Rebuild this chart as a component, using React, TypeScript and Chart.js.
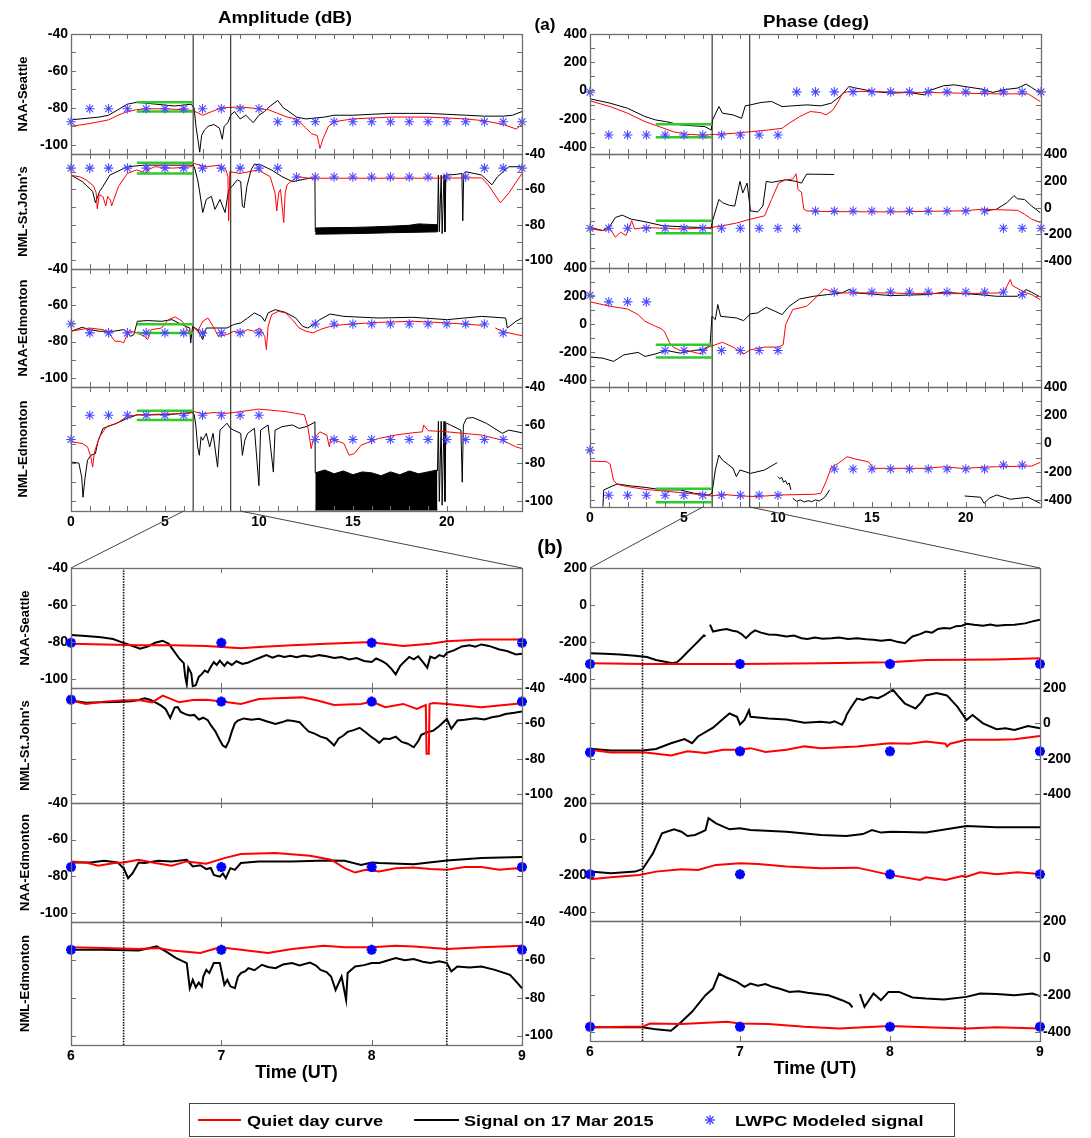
import React, { useEffect, useRef } from 'react';
import { Chart, registerables } from 'chart.js';

Chart.register(...registerables);
Chart.defaults.font.family = "'Liberation Sans', Arial, sans-serif";
Chart.defaults.color = '#000';

type Pt = [number, number | null];

// ---------------- tick labels, names, markers ----------------
const dayTicks = [0, 5, 10, 15, 20];
const zoomTicks = [6, 7, 8, 9];
const ampTicks = [-100, -80, -60, -40];
const phaseDayTicks = [-400, -200, 0, 200, 400];
const phaseZoomTicks = [-400, -200, 0, 200];
const stations = ['NAA-Seattle', "NML-St.John's", 'NAA-Edmonton', 'NML-Edmonton'];
const eventDay = [6.5, 8.5];
const eventZoom = [6.35, 8.5];
const connectLeft = [6, 9];
const connectRight = [6, 8.5];
const greenSpan = [3.5, 6.5];
const greenAmp = [[-77, -82], [-45, -51], [-70.5, -75.3], [-52.5, -57.3]];
const greenPhase = [[-240, -331], [-98, -190], [-148, -239], [-320, -417]];

// ---------------- (a) amplitude, full day ----------------
const ampSeaQuiet: Pt[] = [[0,-90],[1,-88.5],[2,-86.5],[2.5,-84],[3,-82],[3.5,-81],[4,-80.5],[5,-80.5],[6,-81],[6.5,-81.5],[7,-84],[7.5,-82],[8,-80],[9,-79.5],[10,-80.5],[10.5,-81],[11,-83],[11.5,-85],[12,-86],[12.5,-91],[12.8,-94],[13.1,-95],[13.25,-102],[13.4,-97],[13.7,-90],[14,-87.5],[15,-86],[16,-85.5],[17,-85],[18,-85],[19,-85],[20,-85.5],[21,-86],[22,-87],[23,-89],[23.7,-91.5],[24,-89]];
const ampSeaSignal: Pt[] = [[0,-86.5],[0.5,-86],[1,-85.5],[1.5,-85],[2,-84],[2.5,-81],[3,-78],[3.5,-77],[4,-77.5],[4.5,-78],[5,-78.5],[5.5,-79],[6,-78.5],[6.4,-78],[6.55,-80],[6.65,-90],[6.75,-97],[6.85,-104],[6.95,-95],[7.1,-92],[7.3,-90],[7.6,-89],[7.9,-91],[8.05,-97],[8.15,-90],[8.35,-88],[8.5,-84],[8.7,-82],[9,-86],[9.3,-84],[9.7,-88],[10,-84],[10.3,-82],[10.6,-79],[11,-76],[11.3,-80],[11.6,-82],[12,-85],[12.5,-86],[13,-85.5],[13.5,-85],[14,-84],[15,-84],[16,-83.5],[17,-83],[18,-83],[19,-83],[20,-83.5],[21,-84],[22,-84.5],[23,-84.5],[23.5,-84],[24,-82]];
const ampSeaModel: Pt[] = [[0,-87.5],[1,-80.5],[2,-80.5],[3,-80.5],[4,-80.5],[5,-80.5],[6,-80.5],[7,-80.5],[8,-80.5],[9,-80.5],[10,-80.5],[11,-87.5],[12,-87.5],[13,-87.5],[14,-87.5],[15,-87.5],[16,-87.5],[17,-87.5],[18,-87.5],[19,-87.5],[20,-87.5],[21,-87.5],[22,-87.5],[23,-87.5],[24,-87.5]];

const ampStjQuiet: Pt[] = [[0,-52],[0.5,-53],[0.8,-54.6],[1.2,-58],[1.34,-62],[1.4,-71],[1.5,-63],[1.7,-64],[1.85,-69.4],[1.95,-64],[2.1,-66],[2.16,-69.4],[2.25,-66.7],[2.53,-58.3],[3,-51],[3.5,-49],[3.9,-50.5],[4,-51.5],[4.1,-49],[4.45,-47.2],[5.4,-48],[6.4,-47.2],[6.56,-45.4],[7.2,-47.2],[7.9,-46.3],[8.25,-49],[8.35,-52.8],[8.39,-77.8],[8.45,-50],[9,-51],[9.95,-49],[10.6,-52.8],[10.86,-62],[10.95,-72.2],[11.05,-62],[11.15,-60],[11.32,-78.7],[11.4,-62],[11.5,-57.4],[12,-52.8],[12.7,-53.7],[15,-53.7],[19,-53.7],[21.85,-53.5],[22.2,-57.4],[22.85,-67.6],[23.3,-62],[24,-51]];
const ampStjSignal: Pt[] = [[0,-51.9],[0.6,-55.6],[1.15,-61.1],[1.3,-67.6],[1.52,-61.1],[1.7,-58.3],[2.07,-51.9],[3,-47.2],[3.9,-46.3],[6.47,-46.3],[6.56,-47.2],[6.74,-54.6],[6.83,-60.2],[7.01,-73.1],[7.2,-65.7],[7.47,-63.9],[7.66,-71.3],[7.93,-65.7],[8.2,-73.1],[8.39,-60.2],[8.57,-58.3],[8.85,-54.6],[9.03,-55.6],[9.12,-69.4],[9.21,-70.4],[9.36,-58.3],[9.58,-49.1],[9.76,-45.7],[10.13,-46.3],[10.68,-49.1],[11.23,-52.8],[11.78,-55.6],[12.69,-53.7],[12.98,-53.7],[13,-84],[13.02,null],[19.5,-84],[19.55,-52],[19.6,-84],[19.7,-52],[19.75,-85],[19.85,-52],[19.9,-84],[19.95,-52],[20,-51.9],[20.5,-51.5],[20.8,-51],[20.85,-77.8],[20.9,-51],[21,-50],[21.85,-51.9],[22.4,-57.4],[22.7,-52.8],[23.3,-47.2],[24,-47.2]];
const ampStjBandHi: Pt[] = [[13,-81.8],[14,-81.6],[15,-81.5],[16,-81.2],[17,-80.8],[18,-80.3],[18.5,-79.5],[19.5,-80]];
const ampStjBandLo: Pt[] = [[13,-85.3],[14,-85.2],[15,-85],[16,-84.8],[17,-84.5],[18,-84.3],[19.5,-84]];
const ampStjModel: Pt[] = [[0,-48],[1,-48],[2,-48],[3,-48],[4,-48],[5,-48],[6,-48],[7,-48],[8,-48],[9,-48],[10,-48],[11,-48],[12,-53],[13,-53],[14,-53],[15,-53],[16,-53],[17,-53],[18,-53],[19,-53],[20,-53],[21,-53],[22,-48],[23,-48],[24,-48]];

const ampNaaEdmQuiet: Pt[] = [[0,-74.3],[0.97,-72.5],[1.7,-73.4],[2.07,-76.1],[2.34,-79.8],[2.62,-79.8],[2.8,-80.7],[2.99,-76.1],[3.17,-74.3],[3.53,-75.2],[3.9,-77.1],[4.08,-78.9],[4.27,-73.4],[4.82,-72.5],[5.18,-67.9],[5.55,-66.4],[5.92,-68.8],[6.19,-73.4],[6.37,-76.1],[6.56,-72.5],[6.74,-74.3],[7.01,-68.8],[7.29,-67],[7.56,-71.6],[7.84,-77.1],[8.3,-76.1],[8.66,-74.3],[9.03,-75.2],[9.4,-73.4],[9.76,-74.3],[10.04,-72.5],[10.31,-77.1],[10.4,-84.4],[10.49,-71.6],[10.68,-65.1],[11.04,-63.3],[11.41,-64.2],[11.78,-67.9],[12.14,-72.5],[12.51,-74.3],[12.88,-75.2],[13.24,-73.4],[13.79,-71.6],[14.52,-70.6],[16.36,-69.4],[18.19,-68.8],[20.02,-69.7],[21.85,-71],[21.9,null],[22.58,-72.5],[22.95,-74.3],[23.68,-76.1],[24,-76.7]];
const ampNaaEdmSignal: Pt[] = [[0,-74.3],[0.6,-72.1],[0.97,-73.4],[1.52,-74.3],[2.25,-74.3],[2.8,-73.4],[3.17,-77.1],[3.35,-76.1],[3.53,-68.8],[4.08,-68.4],[4.82,-68.8],[5.37,-67.9],[5.73,-69.7],[6.1,-71.6],[6.32,-72.5],[6.37,-80.7],[6.47,-71.6],[6.74,-73.4],[7.01,-78.9],[7.2,-72.5],[7.75,-72.5],[8.3,-72.5],[8.66,-70.6],[9.03,-69.7],[9.4,-67],[9.76,-64.2],[10.13,-66.1],[10.31,-68.8],[10.49,-64.2],[10.86,-62.4],[11.41,-63.9],[11.96,-67],[12.33,-71.6],[12.6,-72.5],[12.88,-70.6],[13.24,-67.9],[13.79,-64.8],[14.52,-66.1],[16.36,-67],[18.19,-66.6],[20.02,-67.9],[21.85,-66.1],[23.13,-67],[23.22,-72.5],[23.68,-68.8],[24,-67]];
const ampNaaEdmModel: Pt[] = [[0,-70.3],[1,-75.2],[2,-75.2],[3,-75.2],[4,-75.2],[5,-75.2],[6,-75.2],[7,-75.2],[8,-75.2],[9,-75.2],[10,-75.2],[13,-70.3],[14,-70.3],[15,-70.3],[16,-70.3],[17,-70.3],[18,-70.3],[19,-70.3],[20,-70.3],[21,-70.3],[22,-70.3],[23,-75.2]];

const ampNmlEdmQuiet: Pt[] = [[0,-68.7],[0.6,-69.6],[0.88,-71.4],[1.06,-76.7],[1.15,-82],[1.25,-74],[1.52,-66.1],[1.89,-60.8],[2.44,-59],[2.99,-55.5],[3.53,-54.6],[4.45,-54.3],[5.37,-54.1],[6.28,-53.8],[6.56,-52.9],[7.01,-54.1],[7.56,-53.4],[8.3,-53.8],[9.03,-52.9],[9.95,-51.6],[10.49,-52],[11.41,-52.9],[11.96,-53.8],[12.42,-54.6],[12.6,-60.8],[12.78,-72.3],[12.88,-67.9],[13.24,-63.5],[13.61,-65.2],[13.75,-71.4],[13.83,-67],[14.52,-69.6],[14.8,-75.8],[15.07,-74.9],[15.44,-70.5],[16.36,-67],[17.27,-65.2],[18.19,-64],[18.7,-63.5],[18.77,-59.9],[19.01,-62.9],[20.02,-63.5],[21.85,-65.2],[22.95,-67.9],[23.68,-71.4],[24,-72.3]];
const ampNmlEdmSignal: Pt[] = [[0,-79.3],[0.42,-79.9],[0.57,-87.3],[0.64,-97.8],[0.75,-87.3],[0.88,-78.4],[1.06,-75.8],[1.3,-74.9],[1.43,-68.7],[1.7,-61.7],[2.44,-59],[2.99,-56.4],[3.53,-54.6],[4.45,-54.6],[5.37,-54.3],[6.47,-53.4],[6.56,-54.6],[6.65,-60.8],[6.74,-71.4],[6.83,-75.8],[6.92,-66.1],[7.01,-67.9],[7.2,-64.3],[7.38,-71.4],[7.56,-64.3],[7.8,-82],[7.93,-62.6],[8.3,-59],[8.48,-61.7],[8.66,-62.6],[9.03,-64.3],[9.12,-75.8],[9.25,-67.9],[9.4,-64.3],[9.76,-61.7],[10,-91.7],[10.09,-62.6],[10.49,-59.9],[10.77,-84.6],[10.86,-62.6],[11.23,-60.8],[11.78,-59.9],[12.14,-61.7],[12.51,-60.8],[12.88,-59],[12.98,-58.2],[13,-85],[13.02,null],[19.5,-84],[19.55,-58],[19.6,-100],[19.7,-58],[19.75,-102],[19.85,-58],[19.9,-100],[19.95,-59],[20,-59],[20.2,-60],[20.75,-62.6],[20.82,-89.9],[20.88,-60],[21.05,-56.4],[21.4,-56],[22.1,-59],[22.95,-64.3],[23.3,-62.6],[24,-64]];
const ampNmlEdmBandHi: Pt[] = [[13,-85],[13.5,-83.5],[14,-85.5],[14.5,-84],[15,-86],[15.5,-84.5],[16,-85],[16.5,-86.5],[17,-84.5],[17.5,-86],[18,-84],[18.5,-85.5],[19,-84.5],[19.5,-83.5]];
const ampNmlEdmBandLo: Pt[] = [[13,-104.5],[16,-104.5],[19.5,-104.5]];
const ampNmlEdmModel: Pt[] = [[0,-67.5],[1,-54.8],[2,-54.8],[3,-54.8],[4,-54.8],[5,-54.8],[6,-54.8],[7,-54.8],[8,-54.8],[9,-54.8],[10,-54.8],[13,-67.5],[14,-67.5],[15,-67.5],[16,-67.5],[17,-67.5],[18,-67.5],[19,-67.5],[20,-67.5],[21,-67.5],[22,-67.5],[23,-67.5]];

// ---------------- (a) phase, full day ----------------
const phSeaQuiet: Pt[] = [[0,-73.5],[1.07,-114],[2,-161],[2.93,-221],[3.68,-256],[4.43,-292],[5.18,-311],[6.11,-316],[6.67,-311],[7.61,-304],[8.54,-292],[9.48,-280],[10.22,-268],[10.6,-232],[11.16,-185],[11.72,-149],[12.28,-157],[12.56,-173],[12.93,-138],[13.21,-78],[13.44,-19],[13.78,-7],[15.08,-7],[16.02,-12],[17.89,-14],[19.76,-19],[21.63,-24],[23.31,-24],[23.96,-78]];
const phSeaSignal: Pt[] = [[0,-59],[1.07,-90],[2,-126],[2.93,-185],[3.5,-209],[4.06,-221],[4.8,-244],[5.55,-251],[6.11,-256],[6.45,-280],[6.52,-209],[6.86,-114],[7.05,-161],[7.61,-173],[8.07,-197],[8.26,-109],[8.54,-102],[9.1,-85],[9.66,-78],[10.22,-114],[10.79,-109],[11.53,-102],[12.28,-109],[12.84,-90],[13.4,-31],[13.78,28],[14.15,17],[15.08,-7],[16.02,-19],[16.95,-14],[17.79,-31],[18.07,0],[18.82,33],[19.38,40],[20.13,24],[20.88,9],[21.44,-14],[22,5],[22.75,17],[23.21,45],[23.5,21],[23.96,-19]];
const phSeaModel: Pt[] = [[0,-12],[1,-315],[2,-315],[3,-315],[4,-315],[5,-315],[6,-315],[7,-315],[8,-315],[9,-315],[10,-315],[11,-10],[12,-10],[13,-10],[14,-10],[15,-10],[16,-10],[17,-10],[18,-10],[19,-10],[20,-10],[21,-10],[22,-10],[23,-10],[24,-10]];

const phStjQuiet: Pt[] = [[0,-159],[0.69,-171],[1.07,-159],[1.35,-220],[1.63,-183],[1.91,-208],[2.09,-147],[2.22,-98],[2.37,-159],[2.93,-147],[3.87,-154],[4.8,-159],[5.74,-154],[6.49,-147],[7.05,-135],[7.79,-115],[8.54,-86],[9.29,-61],[9.66,61],[10.04,183],[10.41,208],[10.79,213],[10.97,252],[11.07,135],[11.25,115],[11.38,-12],[11.53,-24],[12.28,-29],[16.02,-32],[19.76,-24],[20.88,-12],[22.75,-20],[23.12,-49],[23.5,-86],[23.96,-110]];
const phStjSignal: Pt[] = [[0,-147],[0.69,-171],[1.07,-135],[1.35,-73],[1.72,-56],[2.19,-86],[2.93,-105],[3.87,-135],[4.8,-142],[5.74,-147],[6.45,-154],[6.52,-98],[6.86,61],[7.05,37],[7.42,17],[7.7,12],[7.98,196],[8.13,110],[8.36,183],[8.54,-24],[8.92,-32],[9.2,12],[9.38,196],[9.66,188],[10.41,208],[10.97,196],[11.25,183],[11.53,250],[12.99,247],[13.02,null],[20.97,-24],[21.63,-12],[22.19,37],[22.56,90],[22.75,66],[23.12,61],[23.5,12],[23.96,-37]];
const phStjModel: Pt[] = [[0,-154],[1,-154],[2,-154],[3,-154],[4,-154],[5,-154],[6,-154],[7,-154],[8,-154],[9,-154],[10,-154],[11,-154],[12,-25],[13,-25],[14,-25],[15,-25],[16,-25],[17,-25],[18,-25],[19,-25],[20,-25],[21,-25],[22,-154],[23,-154],[24,-154]];

const phNaaEdmQuiet: Pt[] = [[0,158],[1.07,127],[2,107],[2.56,67],[2.93,19],[3.5,-17],[3.78,-33],[3.96,-53],[4.24,-136],[4.43,-165],[4.8,-189],[5.36,-196],[5.93,-215],[6.3,-165],[7.05,-131],[7.61,-165],[8.17,-215],[8.54,-184],[9.29,-165],[10.04,-165],[10.28,-148],[10.41,-5],[10.79,103],[11.53,127],[12.09,198],[12.47,251],[12.84,234],[13.4,222],[16.02,222],[16.95,217],[19.76,217],[22,222],[22.37,318],[22.47,275],[23.12,227],[23.5,210],[23.96,174]];
const phNaaEdmSignal: Pt[] = [[0,-236],[0.69,-244],[1.25,-267],[1.81,-220],[2.56,-203],[2.93,-232],[3.5,-213],[4.06,-189],[4.8,-208],[5.55,-189],[6.11,-179],[6.39,-148],[6.49,55],[6.67,31],[6.8,139],[6.95,55],[7.79,43],[8.17,24],[8.54,72],[8.92,79],[9.38,119],[9.85,91],[10.22,67],[10.6,127],[11.16,179],[11.91,198],[12.65,210],[13.4,222],[13.78,246],[14.15,222],[16.02,203],[17.89,210],[18.82,227],[20.69,210],[21.63,198],[22.75,198],[23.21,246],[23.5,227],[23.96,193]];
const phNaaEdmModel: Pt[] = [[0,205],[1,158],[2,158],[3,158],[4,-189],[5,-189],[6,-189],[7,-189],[8,-189],[9,-189],[10,-189],[13,229],[14,229],[15,229],[16,229],[17,229],[18,229],[19,229],[20,229],[21,229],[22,229],[23,210]];

const phNmlEdmQuiet: Pt[] = [[0,-125],[0.88,-129],[1.07,-146],[1.25,-259],[1.44,-289],[2,-306],[2.93,-325],[4.8,-348],[5.74,-360],[6.49,-372],[7.05,-360],[7.98,-372],[8.92,-376],[10.04,-365],[11.91,-360],[12.28,-353],[12.56,-271],[12.84,-169],[13.21,-141],[13.68,-94],[14.15,-111],[14.8,-129],[15.08,-176],[17.89,-176],[18.82,-165],[19.76,-176],[21.63,-165],[23.5,-160],[23.96,-134]];
const phNmlEdmSignal: Pt[] = [[0.69,-447],[0.73,-329],[1.44,-287],[2.19,-301],[2.93,-311],[3.87,-329],[4.8,-329],[5.55,-353],[6.3,-365],[6.49,-353],[6.67,-188],[6.86,-82],[7.05,-118],[7.61,-176],[7.79,-235],[7.98,-188],[8.54,-212],[9.29,-188],[9.96,-136],[9.98,null],[10,-235],[10.1,-250],[10.2,-240],[10.3,-275],[10.4,-262],[10.5,-290],[10.6,-280],[10.69,-329],[10.74,null],[10.79,-388],[11,-410],[11.2,-400],[11.4,-415],[11.6,-405],[11.8,-412],[12,-400],[12.2,-408],[12.5,-380],[12.75,-329],[12.8,null],[19.94,-372],[20.79,-381],[20.97,-424],[21.25,-388],[21.63,-365],[22.37,-395],[23.31,-381],[23.96,-424]];
const phNmlEdmModel: Pt[] = [[0,-47],[1,-367],[2,-367],[3,-367],[4,-367],[5,-367],[6,-367],[7,-367],[8,-367],[9,-367],[10,-367],[13,-181],[14,-181],[15,-181],[16,-181],[17,-181],[18,-181],[19,-181],[20,-181],[21,-181],[22,-153],[23,-153]];

// ---------------- (b) amplitude, 6-9 UT ----------------
const zAmpSeaQuiet: Pt[] = [[6,-81],[6.22,-81.4],[6.45,-81.9],[6.67,-81.9],[6.9,-82.3],[7.13,-83.5],[7.25,-82.8],[7.47,-81.9],[7.7,-81],[8,-80.1],[8.05,-80.8],[8.21,-82.3],[8.39,-81],[8.5,-79.7],[8.73,-78.7],[9,-78.7]];
const zAmpSeaSignal: Pt[] = [[6,-76.3],[6.1,-76.8],[6.2,-77.5],[6.28,-78.5],[6.33,-80],[6.4,-82],[6.46,-83.7],[6.51,-82.5],[6.56,-80.5],[6.61,-79.4],[6.65,-81],[6.68,-84.5],[6.72,-89],[6.75,-91.5],[6.76,-99],[6.77,-103],[6.78,-94],[6.8,-97],[6.81,-104],[6.83,-103.5],[6.85,-99],[6.87,-97.5],[6.89,-95.5],[6.91,-96.5],[6.93,-93.5],[6.95,-91],[6.97,-92.5],[6.99,-90.2],[7.02,-93],[7.04,-91],[7.07,-92.5],[7.1,-90.5],[7.14,-92],[7.18,-91.2],[7.22,-89.8],[7.26,-88.5],[7.3,-87.2],[7.34,-88.6],[7.38,-87.4],[7.42,-88.2],[7.46,-87.5],[7.5,-88.3],[7.55,-87.4],[7.6,-88],[7.65,-87.2],[7.7,-87.8],[7.75,-88.8],[7.8,-88.2],[7.85,-89.6],[7.9,-88.8],[7.95,-90.4],[8,-90.9],[8.03,-89],[8.07,-90.5],[8.1,-92],[8.13,-94.5],[8.16,-97.6],[8.19,-93],[8.22,-90.5],[8.25,-88.2],[8.28,-89.5],[8.31,-87.8],[8.34,-90.8],[8.37,-94],[8.39,-88],[8.42,-89],[8.45,-87.2],[8.48,-88],[8.5,-85.9],[8.55,-84.5],[8.6,-82.5],[8.65,-81.8],[8.69,-82.6],[8.73,-81.4],[8.78,-82.2],[8.85,-84.1],[8.9,-85],[8.96,-86.8],[9,-86.5]];
const zAmpSeaModel: Pt[] = [[6,-80.5],[7,-80.5],[8,-80.5],[9,-80.5]];

const zAmpStjQuiet: Pt[] = [[6,-47.1],[6.1,-49],[6.22,-47.7],[6.33,-47.1],[6.45,-46.8],[6.54,-48.1],[6.61,-44.3],[6.72,-48.1],[6.81,-46.8],[6.9,-46.6],[6.99,-47.5],[7.13,-49],[7.25,-46.2],[7.36,-45.8],[7.54,-45.3],[7.64,-47.1],[7.75,-49.6],[7.93,-49],[8,-47.7],[8.09,-50.9],[8.21,-49],[8.3,-51.8],[8.36,-49.6],[8.365,-77.2],[8.38,-77.2],[8.385,-49],[8.41,-48.5],[8.5,-49],[8.73,-50.9],[9,-48.6]];
const zAmpStjSignal: Pt[] = [[6,-47.1],[6.1,-48.3],[6.2,-48],[6.3,-47.9],[6.4,-47.5],[6.45,-46.8],[6.49,-45.8],[6.53,-46.8],[6.57,-48.5],[6.6,-50],[6.63,-52],[6.66,-56.9],[6.69,-51],[6.71,-50.8],[6.73,-53.5],[6.76,-54.8],[6.79,-55.5],[6.82,-55.2],[6.85,-57.8],[6.88,-56.8],[6.91,-58.2],[6.93,-61],[6.96,-64.5],[6.99,-69.5],[7.01,-72.5],[7.03,-73.5],[7.05,-70],[7.07,-64.5],[7.09,-60],[7.11,-58.4],[7.15,-57.2],[7.2,-58],[7.25,-57.4],[7.3,-58.8],[7.36,-60.3],[7.4,-59.4],[7.44,-58.2],[7.48,-58.6],[7.52,-59.3],[7.55,-62],[7.58,-64.5],[7.62,-65.8],[7.66,-67.5],[7.7,-68.5],[7.73,-70.8],[7.75,-72.5],[7.78,-68.5],[7.81,-67],[7.84,-64.8],[7.88,-63.8],[7.92,-62.5],[7.96,-65],[8,-67.8],[8.03,-69.5],[8.05,-71],[8.08,-68.5],[8.12,-68.8],[8.16,-67.5],[8.2,-70.5],[8.24,-71.5],[8.28,-73.5],[8.31,-70],[8.33,-66.5],[8.37,-65],[8.41,-64.1],[8.45,-61.5],[8.5,-57.5],[8.53,-63.1],[8.57,-58.4],[8.62,-58],[8.69,-57.1],[8.75,-57.8],[8.8,-56.5],[8.85,-55.8],[8.89,-54.7],[8.95,-54],[9,-53.3]];
const zAmpStjModel: Pt[] = [[6,-46.6],[7,-47.7],[8,-47.7],[9,-47.7]];

const zAmpNaaEdmQuiet: Pt[] = [[6,-71.9],[6.1,-72.5],[6.18,-74.3],[6.29,-72.8],[6.35,-72.5],[6.45,-71],[6.56,-72.8],[6.67,-74.3],[6.77,-71.9],[6.9,-73.2],[7.02,-70.1],[7.13,-67.9],[7.36,-67.3],[7.59,-68.8],[7.73,-71],[7.82,-75.6],[7.89,-78],[7.96,-76.5],[8.05,-77.4],[8.16,-75.6],[8.28,-75.2],[8.39,-76.1],[8.5,-76.5],[8.62,-75],[8.73,-75],[8.85,-76.5],[8.96,-75.6],[9,-77.4]];
const zAmpNaaEdmSignal: Pt[] = [[6,-72.5],[6.13,-72.5],[6.22,-71.6],[6.31,-72.5],[6.35,-75.6],[6.38,-81.1],[6.41,-78.3],[6.45,-72.5],[6.49,-72.8],[6.58,-71.6],[6.67,-71.9],[6.77,-71],[6.81,-74.7],[6.86,-74],[6.9,-76.1],[6.93,-75.5],[6.95,-79.3],[6.99,-80.2],[7.01,-78.5],[7.03,-81.1],[7.06,-75.6],[7.09,-76.5],[7.13,-72.8],[7.25,-71.9],[7.47,-71.9],[7.7,-71.4],[7.82,-71.6],[7.93,-73.8],[8,-72.5],[8.05,-72.8],[8.28,-73.4],[8.5,-71.4],[8.73,-70.1],[9,-69.5]];
const zAmpNaaEdmModel: Pt[] = [[6,-75],[7,-75],[8,-75],[9,-75]];

const zAmpNmlEdmQuiet: Pt[] = [[6,-53.3],[6.22,-53.8],[6.45,-54.3],[6.58,-53.8],[6.67,-55],[6.86,-56.4],[6.99,-53.3],[7.13,-54.7],[7.31,-56.4],[7.47,-54.3],[7.68,-52.5],[7.82,-53.3],[8,-53.3],[8.16,-52.5],[8.28,-52.9],[8.5,-54.3],[8.73,-53.3],[9,-52.5]];
const zAmpNmlEdmSignal: Pt[] = [[6,-54.7],[6.22,-54.7],[6.45,-55],[6.57,-52.9],[6.63,-55.5],[6.7,-59.1],[6.77,-61.7],[6.79,-75],[6.81,-70.6],[6.83,-74.5],[6.85,-72],[6.87,-74.1],[6.88,-68.8],[6.9,-65.3],[6.92,-67],[6.95,-61.7],[6.99,-61.7],[7.02,-73.2],[7.04,-70.6],[7.06,-74],[7.09,-75],[7.11,-69],[7.13,-67],[7.16,-66],[7.18,-64.4],[7.22,-65.5],[7.27,-62.6],[7.31,-63.8],[7.36,-64.4],[7.41,-62.5],[7.47,-61.7],[7.52,-63],[7.59,-61.4],[7.63,-63],[7.66,-65.3],[7.7,-66.5],[7.73,-68.8],[7.76,-75.9],[7.8,-68.8],[7.83,-81.2],[7.84,-67],[7.89,-63.5],[7.95,-62.8],[8,-61.7],[8.05,-61.7],[8.1,-60.5],[8.16,-59.1],[8.22,-60.2],[8.28,-59.6],[8.34,-61],[8.39,-61.7],[8.45,-60.8],[8.5,-61.7],[8.53,-66.1],[8.57,-63.5],[8.65,-64],[8.73,-63.5],[8.82,-65.3],[8.92,-67.9],[8.96,-71.4],[9,-75]];
const zAmpNmlEdmModel: Pt[] = [[6,-54.7],[7,-54.7],[8,-54.7],[9,-54.7]];

// ---------------- (b) phase, 6-9 UT ----------------
const zPhSeaQuiet: Pt[] = [[6,-316],[6.37,-320],[7,-320],[7.54,-316],[8,-311],[8.24,-298],[8.71,-295],[9,-289]];
const zPhSeaSignal: Pt[] = [[6,-262],[6.1,-264],[6.2,-268],[6.3,-275],[6.38,-282],[6.44,-298],[6.5,-308],[6.55,-316],[6.58,-310],[6.61,-289],[6.65,-255],[6.7,-215],[6.73,-190],[6.76,-165],[6.77,-171],[6.785,null],[6.8,-107],[6.82,-144],[6.86,-137],[6.91,-131],[6.95,-140],[6.98,-144],[7.01,-158],[7.04,-180],[7.07,-155],[7.1,-138],[7.14,-150],[7.19,-160],[7.24,-162],[7.31,-171],[7.36,-166],[7.41,-180],[7.45,-185],[7.5,-176],[7.55,-183],[7.61,-180],[7.66,-176],[7.72,-184],[7.78,-180],[7.84,-186],[7.89,-189],[7.94,-194],[8,-189],[8.05,-200],[8.1,-207],[8.13,-185],[8.15,-171],[8.2,-158],[8.24,-144],[8.28,-150],[8.32,-130],[8.36,-125],[8.4,-128],[8.44,-115],[8.48,-113],[8.51,-102],[8.56,-108],[8.62,-113],[8.67,-106],[8.71,-113],[8.77,-109],[8.83,-107],[8.9,-100],[8.95,-89],[9,-80]];
const zPhSeaModel: Pt[] = [[6,-320],[7,-320],[8,-320],[9,-320]];

const zPhStjQuiet: Pt[] = [[6,-149],[6.14,-164],[6.37,-164],[6.54,-182],[6.65,-158],[6.77,-167],[6.89,-149],[7,-149],[7.07,-140],[7.17,-162],[7.31,-149],[7.43,-130],[7.54,-140],[7.78,-130],[8,-112],[8.13,-115],[8.24,-102],[8.37,-115],[8.38,-130],[8.4,-115],[8.51,-93],[8.71,-93],[8.83,-89],[9,-71]];
const zPhStjSignal: Pt[] = [[6,-143],[6.14,-153],[6.35,-153],[6.44,-145],[6.54,-112],[6.63,-89],[6.68,-112],[6.72,-74],[6.82,-24],[6.89,28],[6.93,56],[6.98,37],[7,-6],[7.03,19],[7.06,74],[7.07,37],[7.19,28],[7.31,22],[7.43,4],[7.54,9],[7.6,4],[7.63,12],[7.66,0],[7.68,-8],[7.7,22],[7.71,47],[7.74,90],[7.78,140],[7.82,132],[7.87,149],[7.92,142],[7.96,158],[8.02,190],[8.06,149],[8.1,112],[8.14,96],[8.17,84],[8.21,120],[8.24,158],[8.31,171],[8.38,158],[8.45,93],[8.51,19],[8.55,47],[8.62,0],[8.71,-33],[8.77,-28],[8.83,-37],[8.92,-15],[9,-28]];
const zPhStjModel: Pt[] = [[6,-164],[7,-158],[8,-158],[9,-158]];

const zPhNaaEdmQuiet: Pt[] = [[6,-220],[6.14,-209],[6.33,-196],[6.44,-178],[6.61,-165],[6.72,-169],[6.84,-141],[7,-132],[7.12,-136],[7.31,-150],[7.54,-160],[7.78,-156],[8,-196],[8.2,-224],[8.24,-209],[8.37,-224],[8.48,-202],[8.51,-206],[8.6,-182],[8.71,-193],[8.78,-187],[8.85,-182],[9,-191]];
const zPhNaaEdmSignal: Pt[] = [[6,-178],[6.14,-187],[6.3,-178],[6.35,-165],[6.42,-77],[6.44,-40],[6.48,33],[6.56,55],[6.61,42],[6.65,18],[6.7,24],[6.75,42],[6.77,51],[6.79,116],[6.84,88],[6.93,55],[7,61],[7.07,51],[7.31,42],[7.54,24],[7.71,18],[7.82,29],[7.88,51],[7.94,37],[8.01,42],[8.24,37],[8.51,73],[8.71,66],[9,66]];
const zPhNaaEdmModel: Pt[] = [[6,-193],[7,-193],[8,-193],[9,-193]];

const zPhNmlEdmQuiet: Pt[] = [[6,-376],[6.26,-373],[6.35,-373],[6.4,-355],[6.61,-358],[6.91,-346],[7,-355],[7.19,-358],[7.43,-373],[7.66,-382],[8,-369],[8.24,-376],[8.51,-382],[8.71,-376],[9,-382]];
const zPhNmlEdmSignal: Pt[] = [[6,-376],[6.26,-376],[6.35,-376],[6.44,-387],[6.54,-394],[6.61,-346],[6.68,-292],[6.77,-202],[6.82,-166],[6.86,-85],[6.91,-106],[6.98,-130],[7.03,-157],[7.07,-139],[7.12,-150],[7.17,-142],[7.22,-158],[7.26,-166],[7.33,-184],[7.39,-180],[7.45,-189],[7.52,-195],[7.59,-202],[7.68,-229],[7.73,-247],[7.75,-268],[7.77,null],[7.8,-196],[7.83,-265],[7.89,-193],[7.94,-229],[7.99,-184],[8.06,-184],[8.15,-214],[8.24,-220],[8.36,-225],[8.51,-211],[8.6,-193],[8.71,-196],[8.83,-202],[8.95,-193],[9,-207]];
const zPhNmlEdmModel: Pt[] = [[6,-373],[7,-373],[8,-373],[9,-373]];

// ---------------- layout ----------------
const ML = 72, MR = 60, MT = 14;
type Block = { left: number; right: number; edges: number[]; timeY?: number };
const TL: Block = { left: 71, right: 522, edges: [34, 154, 269, 387, 511] };
const TR: Block = { left: 590, right: 1041, edges: [34, 154, 268, 387, 507] };
const BL: Block = { left: 71, right: 522, edges: [568, 688, 803, 922, 1045], timeY: 1073.5 };
const BR: Block = { left: 590, right: 1040, edges: [568, 688, 803, 921, 1041], timeY: 1069 };

type Kind = { xMin: number; xMax: number; xTicks: number[]; xMinor: number; yMin: number; yMax: number; yTicks: number[]; yMinor: number; events: number[]; zoom: boolean };
const KINDS: Record<string, Kind> = {
  ampDay: { xMin: 0, xMax: 24, xTicks: dayTicks, xMinor: 1, yMin: -105, yMax: -40, yTicks: ampTicks, yMinor: 10, events: eventDay, zoom: false },
  phaseDay: { xMin: 0, xMax: 24, xTicks: dayTicks, xMinor: 1, yMin: -450, yMax: 400, yTicks: phaseDayTicks, yMinor: 100, events: eventDay, zoom: false },
  ampZoom: { xMin: 6, xMax: 9, xTicks: zoomTicks, xMinor: 1, yMin: -105, yMax: -40, yTicks: ampTicks, yMinor: 20, events: eventZoom, zoom: true },
  phaseZoom: { xMin: 6, xMax: 9, xTicks: zoomTicks, xMinor: 1, yMin: -450, yMax: 200, yTicks: phaseZoomTicks, yMinor: 200, events: eventZoom, zoom: true },
};

type Spec = { id: string; block: Block; row: number; kind: string; quiet: Pt[]; signal: Pt[]; model: Pt[]; bandHi?: Pt[]; bandLo?: Pt[]; green?: number[]; station?: string; stationX?: number };

const specs: Spec[] = [
  { id: 'ta0', block: TL, row: 0, kind: 'ampDay', quiet: ampSeaQuiet, signal: ampSeaSignal, model: ampSeaModel, green: greenAmp[0], station: stations[0], stationX: 23 },
  { id: 'ta1', block: TL, row: 1, kind: 'ampDay', quiet: ampStjQuiet, signal: ampStjSignal, model: ampStjModel, bandHi: ampStjBandHi, bandLo: ampStjBandLo, green: greenAmp[1], station: stations[1], stationX: 23 },
  { id: 'ta2', block: TL, row: 2, kind: 'ampDay', quiet: ampNaaEdmQuiet, signal: ampNaaEdmSignal, model: ampNaaEdmModel, green: greenAmp[2], station: stations[2], stationX: 23 },
  { id: 'ta3', block: TL, row: 3, kind: 'ampDay', quiet: ampNmlEdmQuiet, signal: ampNmlEdmSignal, model: ampNmlEdmModel, bandHi: ampNmlEdmBandHi, bandLo: ampNmlEdmBandLo, green: greenAmp[3], station: stations[3], stationX: 23 },
  { id: 'tp0', block: TR, row: 0, kind: 'phaseDay', quiet: phSeaQuiet, signal: phSeaSignal, model: phSeaModel, green: greenPhase[0] },
  { id: 'tp1', block: TR, row: 1, kind: 'phaseDay', quiet: phStjQuiet, signal: phStjSignal, model: phStjModel, green: greenPhase[1] },
  { id: 'tp2', block: TR, row: 2, kind: 'phaseDay', quiet: phNaaEdmQuiet, signal: phNaaEdmSignal, model: phNaaEdmModel, green: greenPhase[2] },
  { id: 'tp3', block: TR, row: 3, kind: 'phaseDay', quiet: phNmlEdmQuiet, signal: phNmlEdmSignal, model: phNmlEdmModel, green: greenPhase[3] },
  { id: 'ba0', block: BL, row: 0, kind: 'ampZoom', quiet: zAmpSeaQuiet, signal: zAmpSeaSignal, model: zAmpSeaModel, station: stations[0], stationX: 25 },
  { id: 'ba1', block: BL, row: 1, kind: 'ampZoom', quiet: zAmpStjQuiet, signal: zAmpStjSignal, model: zAmpStjModel, station: stations[1], stationX: 25 },
  { id: 'ba2', block: BL, row: 2, kind: 'ampZoom', quiet: zAmpNaaEdmQuiet, signal: zAmpNaaEdmSignal, model: zAmpNaaEdmModel, station: stations[2], stationX: 25 },
  { id: 'ba3', block: BL, row: 3, kind: 'ampZoom', quiet: zAmpNmlEdmQuiet, signal: zAmpNmlEdmSignal, model: zAmpNmlEdmModel, station: stations[3], stationX: 25 },
  { id: 'bp0', block: BR, row: 0, kind: 'phaseZoom', quiet: zPhSeaQuiet, signal: zPhSeaSignal, model: zPhSeaModel },
  { id: 'bp1', block: BR, row: 1, kind: 'phaseZoom', quiet: zPhStjQuiet, signal: zPhStjSignal, model: zPhStjModel },
  { id: 'bp2', block: BR, row: 2, kind: 'phaseZoom', quiet: zPhNaaEdmQuiet, signal: zPhNaaEdmSignal, model: zPhNaaEdmModel },
  { id: 'bp3', block: BR, row: 3, kind: 'phaseZoom', quiet: zPhNmlEdmQuiet, signal: zPhNmlEdmSignal, model: zPhNmlEdmModel },
];

// frame + inward tick marks
const frameTicks = {
  id: 'frameTicks',
  afterDatasetsDraw(chart: any, _args: any, o: any) {
    const { ctx, chartArea: a, scales } = chart;
    const xs = scales.x, ys = scales.y;
    const L = 5;
    ctx.save();
    ctx.strokeStyle = '#6e6e6e';
    ctx.lineWidth = 1;
    ctx.beginPath();
    for (let v = o.xMin; v <= o.xMax + 1e-9; v += o.xMinor) {
      const px = Math.round(xs.getPixelForValue(v)) + 0.5;
      ctx.moveTo(px, a.top); ctx.lineTo(px, a.top + L);
      ctx.moveTo(px, a.bottom); ctx.lineTo(px, a.bottom - L);
    }
    const y0 = Math.ceil(o.yMin / o.yMinor) * o.yMinor;
    for (let v = y0; v <= o.yMax + 1e-9; v += o.yMinor) {
      const py = Math.round(ys.getPixelForValue(v)) + 0.5;
      ctx.moveTo(a.left, py); ctx.lineTo(a.left + L, py);
      ctx.moveTo(a.right, py); ctx.lineTo(a.right - L, py);
    }
    ctx.stroke();
    ctx.lineWidth = 1.3;
    ctx.strokeRect(a.left + 0.5, a.top + 0.5, a.right - a.left, a.bottom - a.top);
    ctx.restore();
  },
};

const xy = (p: Pt[]) => p.map(([x, y]) => ({ x, y }));

function makeConfig(s: Spec, MB: number) {
  const k = KINDS[s.kind];
  const last = s.row === 3;
  const labelLeft = s.row % 2 === 0;
  const bottom = s.block.edges[s.row + 1];
  const tickFont = { size: 14, weight: 'bold' as const };
  const base = { xAxisID: 'x', yAxisID: 'y', pointRadius: 0, tension: 0 };
  const ds: any[] = [];
  ds.push({ ...base, data: xy(s.model), showLine: false, pointStyle: 'star', pointRadius: k.zoom ? 5 : 4.8, pointBorderWidth: k.zoom ? 3 : 1.1, pointBorderColor: k.zoom ? '#0000ff' : '#4a4aff', pointBackgroundColor: k.zoom ? '#0000ff' : '#4a4aff', clip: false });
  if (s.green) s.green.forEach((v) => ds.push({ ...base, data: [{ x: greenSpan[0], y: v }, { x: greenSpan[1], y: v }], borderColor: '#2ecb2e', borderWidth: 2.5 }));
  k.events.forEach((v) => ds.push({ ...base, data: [{ x: v, y: k.yMin }, { x: v, y: k.yMax }], borderColor: '#111', borderWidth: k.zoom ? 1.6 : 1, borderDash: k.zoom ? [1.5, 1.2] : [] }));
  ds.push({ ...base, data: xy(s.quiet), borderColor: '#ff0000', borderWidth: k.zoom ? 2 : 1 });
  ds.push({ ...base, data: xy(s.signal), borderColor: '#000', borderWidth: k.zoom ? 2 : 1 });
  if (s.bandHi && s.bandLo) {
    ds.push({ ...base, data: xy(s.bandLo), borderColor: '#000', borderWidth: 1 });
    ds.push({ ...base, data: xy(s.bandHi), borderColor: '#000', borderWidth: 1, fill: '-1', backgroundColor: '#000' });
  }
  const stationTitle = s.station
    ? { display: true, text: s.station, color: '#000', font: { size: 13, weight: 'bold' }, padding: { top: (s.stationX as number) - (s.block.left - ML) - 7.8, bottom: 0 } }
    : { display: false };
  const xTitle = last && k.zoom
    ? { display: true, text: 'Time (UT)', color: '#000', font: { size: 18, weight: 'bold' }, padding: { top: 0, bottom: bottom + MB - (s.block.timeY as number) - 10.8 } }
    : { display: false };
  const yCommon = {
    type: 'linear', min: k.yMin, max: k.yMax,
    afterBuildTicks: (sc: any) => { sc.ticks = k.yTicks.map((v) => ({ value: v })); },
    grid: { display: false, drawTicks: false }, border: { display: false },
  };
  return {
    type: 'line',
    data: { datasets: ds },
    plugins: [frameTicks],
    options: {
      animation: false, responsive: false, devicePixelRatio: 1, events: [],
      layout: { padding: { top: MT, left: 0, right: 0, bottom: 0 } },
      plugins: { legend: { display: false }, tooltip: { enabled: false }, frameTicks: { xMin: k.xMin, xMax: k.xMax, xMinor: k.xMinor, yMin: k.yMin, yMax: k.yMax, yMinor: k.yMinor } },
      scales: {
        x: {
          type: 'linear', min: k.xMin, max: k.xMax,
          afterBuildTicks: (sc: any) => { sc.ticks = k.xTicks.map((v) => ({ value: v })); },
          ticks: { display: last, font: tickFont, color: '#000', padding: 3, autoSkip: false, maxRotation: 0 },
          grid: { display: false, drawTicks: false }, border: { display: false },
          title: xTitle,
          afterFit: (sc: any) => { sc.height = MB; },
        },
        y: { ...yCommon, position: 'left', ticks: { display: labelLeft, font: tickFont, color: '#000', padding: 3 }, title: stationTitle, afterFit: (sc: any) => { sc.width = ML; } },
        y2: { ...yCommon, position: 'right', ticks: { display: !labelLeft, font: tickFont, color: '#000', padding: 3 }, title: { display: false }, afterFit: (sc: any) => { sc.width = MR; } },
      },
    },
  };
}

function Panel({ s }: { s: Spec }) {
  const ref = useRef<HTMLCanvasElement | null>(null);
  const b = s.block;
  const top = b.edges[s.row];
  const bottom = b.edges[s.row + 1];
  const k = KINDS[s.kind];
  const MB = s.row === 3 ? (k.zoom ? 52 : 26) : 14;
  const W = b.right - b.left + ML + MR;
  const H = bottom - top + MT + MB;
  useEffect(() => {
    const chart = new Chart(ref.current as HTMLCanvasElement, makeConfig(s, MB) as any);
    return () => chart.destroy();
  }, []);
  return <canvas ref={ref} width={W} height={H} style={{ position: 'absolute', left: b.left - ML, top: top - MT, width: W, height: H }} />;
}

function Txt({ x, y, size, sx = 1, left = false, children }: { x: number; y: number; size: number; sx?: number; left?: boolean; children: any }) {
  return (
    <div style={{ position: 'absolute', left: x, top: y, fontSize: size, fontWeight: 'bold', lineHeight: 1, whiteSpace: 'nowrap', color: '#000',
      transform: left ? `translateY(-50%) scaleX(${sx})` : `translate(-50%,-50%) scaleX(${sx})`, transformOrigin: left ? 'left center' : 'center center' }}>
      {children}
    </div>
  );
}

const dayX = (b: Block, h: number) => b.left + (h / 24) * (b.right - b.left);

export default function App() {
  return (
    <div style={{ position: 'absolute', left: 0, top: 0, width: 1091, height: 1138, background: '#fff', overflow: 'hidden', fontFamily: "'Liberation Sans', Arial, sans-serif" }}>
      {specs.map((s) => <Panel key={s.id} s={s} />)}
      <svg width={1091} height={1138} style={{ position: 'absolute', left: 0, top: 0, pointerEvents: 'none' }}>
        <line x1={dayX(TL, connectLeft[0])} y1={TL.edges[4]} x2={BL.left} y2={BL.edges[0]} stroke="#444" strokeWidth={1} />
        <line x1={dayX(TL, connectLeft[1])} y1={TL.edges[4]} x2={BL.right} y2={BL.edges[0]} stroke="#444" strokeWidth={1} />
        <line x1={dayX(TR, connectRight[0])} y1={TR.edges[4]} x2={BR.left} y2={BR.edges[0]} stroke="#444" strokeWidth={1} />
        <line x1={dayX(TR, connectRight[1])} y1={TR.edges[4]} x2={BR.right} y2={BR.edges[0]} stroke="#444" strokeWidth={1} />
      </svg>
      <Txt x={285} y={18} size={16} sx={1.17}>Amplitude (dB)</Txt>
      <Txt x={815.5} y={21.5} size={16} sx={1.17}>Phase (deg)</Txt>
      <Txt x={545} y={23.5} size={17}>(a)</Txt>
      <Txt x={550} y={547.3} size={20}>(b)</Txt>
      <div style={{ position: 'absolute', left: 189, top: 1103, width: 766, height: 34, border: '1.5px solid #444', boxSizing: 'border-box', background: '#fff' }} />
      <div style={{ position: 'absolute', left: 198, top: 1119, width: 43, height: 2, background: '#ff0000' }} />
      <Txt x={247} y={1121.4} size={15.5} sx={1.17} left>Quiet day curve</Txt>
      <div style={{ position: 'absolute', left: 414, top: 1119, width: 45, height: 2, background: '#000' }} />
      <Txt x={463.5} y={1121.4} size={15.5} sx={1.17} left>Signal on 17 Mar 2015</Txt>
      <svg width={14} height={14} style={{ position: 'absolute', left: 703, top: 1113 }}>
        <g stroke="#3a3aff" strokeWidth={1.2}>
          <line x1={7} y1={2} x2={7} y2={12} />
          <line x1={2} y1={7} x2={12} y2={7} />
          <line x1={3.5} y1={3.5} x2={10.5} y2={10.5} />
          <line x1={10.5} y1={3.5} x2={3.5} y2={10.5} />
        </g>
      </svg>
      <Txt x={735} y={1121.4} size={15.5} sx={1.17} left>LWPC Modeled signal</Txt>
    </div>
  );
}
